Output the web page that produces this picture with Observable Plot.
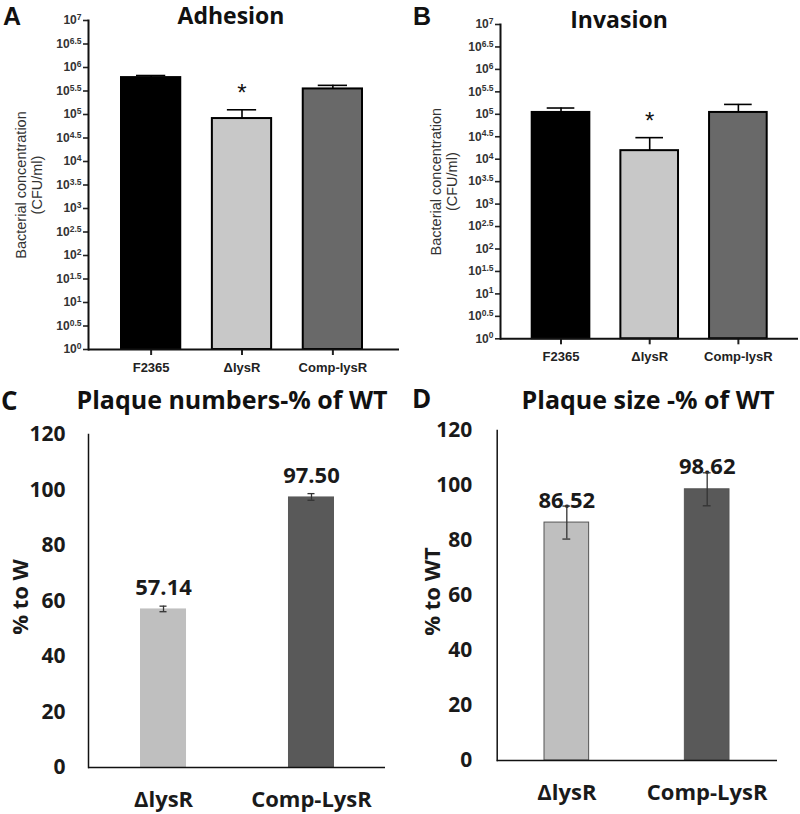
<!DOCTYPE html>
<html><head><meta charset="utf-8">
<script src="https://cdn.jsdelivr.net/npm/d3@7"></script>
<script src="https://cdn.jsdelivr.net/npm/@observablehq/plot@0.6"></script>
<style>
body{margin:0;background:#fff;}
#fig{position:relative;width:800px;height:814px;overflow:hidden;background:#fff}
.panel{position:absolute}
.lbl{position:absolute;white-space:nowrap;line-height:1;color:#111}
.arial{font-family:"Liberation Sans",Arial,sans-serif;font-weight:bold}
.open{font-family:"Open Sans",sans-serif;font-weight:700}
</style></head><body><div id="fig"></div>
<script>
// ---- Data ----
const strains = ["F2365", "ΔlysR", "Comp-lysR"];
const strainFill = ["#000000", "#c8c8c8", "#696969"];
const adhesionMean = [610000, 82000, 350000];
const adhesionSem = [65000, 44000, 67000];
const invasionMean = [110000, 15500, 110000];
const invasionSem = [28000, 14700, 56000];
const significant = [false, true, false];
const logTickExponents = [0, 0.5, 1, 1.5, 2, 2.5, 3, 3.5, 4, 4.5, 5, 5.5, 6, 6.5, 7];

const plaqueStrains = ["ΔlysR", "Comp-LysR"];
const plaqueFill = ["#bfbfbf", "#595959"];
const plaqueNumbers = [57.14, 97.50];
const plaqueNumbersErr = [1.0, 1.2];
const plaqueSize = [86.52, 98.62];
const plaqueSizeErr = [6.0, 6.0];
const percentTicks = [0, 20, 40, 60, 80, 100, 120];

const fig = document.getElementById("fig");
const SVGNS = "http://www.w3.org/2000/svg";
const logTicks = logTickExponents.map(e => Math.pow(10, e));

function place(el, left, top) {
  el.classList.add("panel");
  el.style.left = left + "px";
  el.style.top = top + "px";
  fig.appendChild(el);
}
function label(text, cls, left, top, size, center) {
  const d = document.createElement("div");
  d.className = "lbl " + cls;
  d.textContent = text;
  d.style.left = left + "px";
  d.style.top = top + "px";
  d.style.fontSize = size + "px";
  if (center) d.style.transform = "translateX(-50%)";
  fig.appendChild(d);
}

function cfuPanel(means, sems, opt) {
  const data = strains.map((s, i) => ({strain: s, mean: means[i], top: means[i] + sems[i], sig: significant[i]}));
  const svg = Plot.plot({
    width: opt.width, height: opt.height,
    marginLeft: opt.marginLeft, marginTop: opt.marginTop, marginBottom: opt.marginBottom, marginRight: opt.marginRight,
    style: {fontFamily: "Liberation Sans, Arial, sans-serif", fontSize: "13px", color: "#222", background: "transparent", overflow: "visible"},
    x: {domain: strains, range: opt.xRange, paddingInner: opt.pad, paddingOuter: 0, round: false, label: null},
    y: {type: "log", domain: [1, 1e7], label: null},
    color: {domain: strains, range: strainFill},
    marks: [
      Plot.barY(data, {x: "strain", y1: 1, y2: "mean", fill: "strain", stroke: "#000", strokeWidth: 2}),
      Plot.ruleX(data, {x: "strain", y1: "mean", y2: "top", stroke: "#000", strokeWidth: 1.6}),
      Plot.tickY(data, {x: "strain", y: "top", stroke: "#000", strokeWidth: 1.6, insetLeft: 15, insetRight: 15}),
      Plot.text(data.filter(d => d.sig), {x: "strain", y: "top", text: () => "*", fontSize: 24, dy: -16, fill: "#111"}),
      Plot.axisY(logTicks, {tickFormat: () => "10", tickSize: 5, tickPadding: 2,
        fontSize: 12, fontWeight: "bold", fill: "#333", stroke: "#222", strokeWidth: 1.6, label: null}),
      Plot.axisX({tickSize: 6, tickPadding: 7, fontSize: 13, fontWeight: "bold", fill: "#222", stroke: "#222", strokeWidth: 2, label: null}),
      Plot.ruleY([1], {stroke: "#111", strokeWidth: 2}),
      Plot.frame({anchor: "left", stroke: "#111", strokeWidth: 2}),
      Plot.text([0], {frameAnchor: "left", rotate: -90, dx: opt.labelDx, textAnchor: "middle", lineAnchor: "middle",
        text: () => "Bacterial concentration\n(CFU/ml)", fontSize: 14.5, lineHeight: 1.15, fill: "#333"})
    ]
  });
  // tick labels as 10 with a superscript exponent (Plot blanks non-integer powers on log axes)
  svg.querySelectorAll('g[aria-label="y-axis tick label"] text').forEach((t, i) => {
    const e = logTickExponents[i];
    if (e === undefined) return;
    t.textContent = "10";
    const ts = document.createElementNS(SVGNS, "tspan");
    ts.setAttribute("dy", "-0.5em");
    ts.setAttribute("font-size", "8.5");
    ts.textContent = String(e);
    t.appendChild(ts);
  });
  return svg;
}

function plaquePanel(values, errs, opt) {
  const data = plaqueStrains.map((s, i) => ({strain: s, v: values[i], lo: values[i] - errs[i], hi: values[i] + errs[i], label: values[i].toFixed(2)}));
  return Plot.plot({
    width: opt.width, height: opt.height,
    marginLeft: opt.marginLeft, marginTop: opt.marginTop, marginBottom: opt.marginBottom, marginRight: opt.marginRight,
    style: {fontFamily: "Open Sans, sans-serif", fontSize: "21px", color: "#1a1a1a", background: "transparent", overflow: "visible"},
    x: {domain: plaqueStrains, range: opt.xRange, paddingInner: opt.pad, paddingOuter: 0, round: false, label: null},
    y: {domain: [0, 120], label: null},
    color: {domain: plaqueStrains, range: plaqueFill},
    marks: [
      Plot.barY(data, {x: "strain", y: "v", fill: "strain", stroke: opt.barStroke, strokeWidth: 1}),
      Plot.text(data, {x: "strain", y: "v", text: "label", dy: opt.valueDy, fontSize: 22, fontWeight: "bold", fill: "#1a1a1a"}),
      Plot.ruleX(data, {x: "strain", y1: "lo", y2: "hi", stroke: "#333", strokeWidth: 1.3}),
      Plot.tickY(data, {x: "strain", y: "lo", stroke: "#333", strokeWidth: 1.3, insetLeft: opt.capInset, insetRight: opt.capInset}),
      Plot.tickY(data, {x: "strain", y: "hi", stroke: "#333", strokeWidth: 1.3, insetLeft: opt.capInset, insetRight: opt.capInset}),
      Plot.axisY(percentTicks, {tickSize: 0, tickPadding: opt.yPad, fontSize: 21, fontWeight: "bold", fill: "#1a1a1a", label: null}),
      Plot.axisX({tickSize: 0, tickPadding: 24, fontSize: 22, fontWeight: "bold", fill: "#1a1a1a", label: null}),
      Plot.ruleY([0], {stroke: "#111", strokeWidth: 1.5}),
      Plot.frame({anchor: "left", stroke: "#111", strokeWidth: 1.5}),
      Plot.text([0], {frameAnchor: "left", rotate: -90, dx: opt.labelDx, dy: -4, textAnchor: "middle", lineAnchor: "middle",
        text: () => opt.yLabel, fontSize: 22, fontWeight: "bold", fill: "#1a1a1a"})
    ]
  });
}

// Panel A
place(cfuPanel(adhesionMean, adhesionSem, {width: 400, height: 385, marginLeft: 88, marginTop: 20, marginBottom: 36, marginRight: 1,
  xRange: [121, 362], pad: 0.348, labelDx: -60}), 0, 0);
// Panel B
place(cfuPanel(invasionMean, invasionSem, {width: 400, height: 385, marginLeft: 100, marginTop: 24, marginBottom: 46.7, marginRight: 2,
  xRange: [131.7, 366.7], pad: 0.35, labelDx: -57}), 400, 0);
// Panel C
place(plaquePanel(plaqueNumbers, plaqueNumbersErr, {width: 400, height: 434, marginLeft: 88, marginTop: 54, marginBottom: 47, marginRight: 15,
  xRange: [140, 334], pad: 0.689, valueDy: -21, capInset: 19.5, yPad: 23, labelDx: -68, yLabel: "% to W", barStroke: "none"}), 0, 380);
// Panel D
place(plaquePanel(plaqueSize, plaqueSizeErr, {width: 400, height: 434, marginLeft: 96.7, marginTop: 50, marginBottom: 54, marginRight: 23,
  xRange: [144, 329], pad: 0.682, valueDy: -22, capInset: 18.4, yPad: 25, labelDx: -64.7, yLabel: "% to WT", barStroke: "#555"}), 400, 380);

// Panel letters and titles
label("A", "arial", 3, 4, 25, false);
label("B", "arial", 413, 4, 25, false);
label("C", "open", 1, 387, 26, false);
label("D", "open", 412, 385, 26, false);
label("Adhesion", "open", 231, 4.3, 23, true);
label("Invasion", "open", 619, 7.5, 23, true);
label("Plaque numbers-% of WT", "open", 232, 387, 25, true);
label("Plaque size -% of WT", "open", 648, 387, 25, true);
</script></body></html>
